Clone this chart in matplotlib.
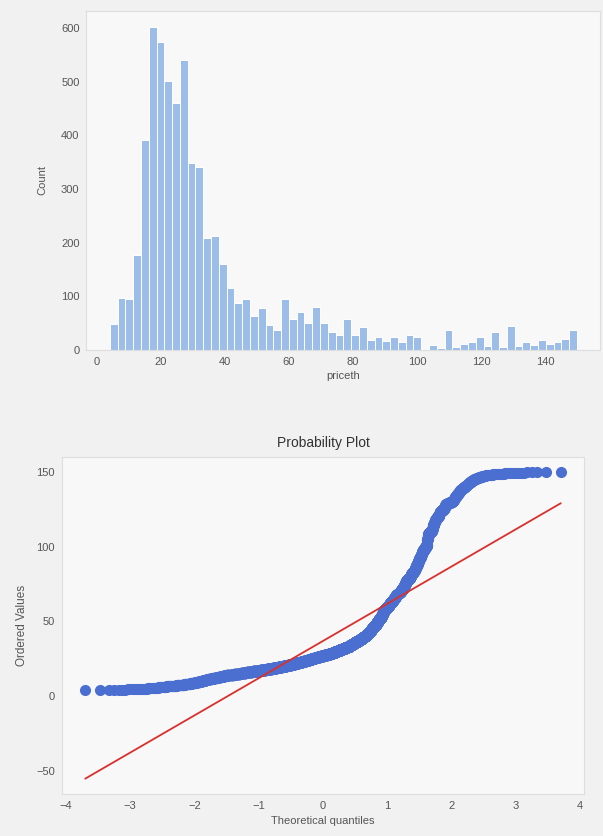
import numpy as np
import matplotlib
matplotlib.use("Agg")
import matplotlib.pyplot as plt
from statistics import NormalDist

# ---------------- data ----------------
bin_start = 4.0
bin_end = 150.0
counts = [48, 97, 95, 177, 391, 602, 574, 501, 461, 541,
          348, 341, 208, 212, 160, 115, 87, 95, 63, 78,
          47, 37, 95, 57, 71, 50, 81, 51, 34, 28,
          57, 28, 43, 19, 25, 16, 25, 14, 28, 25,
          0, 10, 4, 38, 6, 12, 14, 24, 8, 33,
          6, 45, 8, 14, 10, 18, 12, 15, 20, 38]

hist_xlabel = "priceth"
hist_ylabel = "Count"
hist_xticks = [0, 20, 40, 60, 80, 100, 120, 140]
hist_yticks = [0, 100, 200, 300, 400, 500, 600]

pp_title = "Probability Plot"
pp_xlabel = "Theoretical quantiles"
pp_ylabel = "Ordered Values"
pp_xticks = [-4, -3, -2, -1, 0, 1, 2, 3, 4]
pp_yticks = [-50, 0, 50, 100, 150]

# ---------------- style ----------------
plt.rcParams['font.family'] = ['Liberation Sans', 'DejaVu Sans']
W, H = 603, 836
fig = plt.figure(figsize=(W / 100, H / 100), dpi=100)
fig.patch.set_facecolor('#f1f1f1')

bar_color = '#9dbde9'
dot_color = '#4a6fd0'
line_color = '#d9302c'
spine_color = '#dedede'
text_color = '#555555'


def style(ax):
    ax.set_facecolor('#f8f8f8')
    for s in ax.spines.values():
        s.set_color(spine_color)
        s.set_linewidth(0.8)
    ax.tick_params(length=0, colors=text_color, labelsize=8, pad=5)


def place(ax, ref_x, px_x, sx, ref_y, px_y, sy):
    x0, x1 = ax.get_xlim()
    y0, y1 = ax.get_ylim()
    left = px_x + (x0 - ref_x) * sx
    right = px_x + (x1 - ref_x) * sx
    bottom = px_y + (ref_y - y0) * sy
    top = px_y + (ref_y - y1) * sy
    ax.set_position([left / W, 1 - bottom / H, (right - left) / W, (bottom - top) / H])


# ---------------- histogram ----------------
edges = np.linspace(bin_start, bin_end, len(counts) + 1)
ax1 = fig.add_axes([0.1, 0.6, 0.8, 0.35])
ax1.bar(edges[:-1], counts, width=np.diff(edges), align='edge',
        color=bar_color, edgecolor='white', linewidth=0.7)
style(ax1)
ax1.set_xticks(hist_xticks)
ax1.set_yticks(hist_yticks)
ax1.set_xlabel(hist_xlabel, fontsize=8, color=text_color, labelpad=3)
ax1.set_ylabel(hist_ylabel, fontsize=8, color=text_color, labelpad=10)
place(ax1, 0, 97, 3.2, 0, 350, 0.5367)

# ---------------- probability plot ----------------
vals = np.concatenate([lo + (np.arange(c) + 0.5) / c * (hi - lo)
                       for lo, hi, c in zip(edges[:-1], edges[1:], counts) if c > 0])
vals = np.sort(vals)
n = len(vals)
i = np.arange(1, n + 1)
m = (i - 0.3175) / (n + 0.365)
m[-1] = 0.5 ** (1.0 / n)
m[0] = 1 - m[-1]
nd = NormalDist()
osm = np.array([nd.inv_cdf(p) for p in m])
slope, intercept = np.polyfit(osm, vals, 1)

ax2 = fig.add_axes([0.1, 0.05, 0.8, 0.4])
ax2.plot(osm, vals, 'o', color=dot_color, markersize=7)
ax2.plot(osm, slope * osm + intercept, '-', color=line_color, lw=1.3)
style(ax2)
ax2.set_xticks(pp_xticks)
ax2.set_yticks(pp_yticks)
ax2.set_title(pp_title, fontsize=10, color='#333333', pad=7)
ax2.set_xlabel(pp_xlabel, fontsize=8, color=text_color, labelpad=4)
ax2.set_ylabel(pp_ylabel, fontsize=8.5, color=text_color, labelpad=6)
place(ax2, 0, 323, 64.25, 0, 696, 1.493)

fig.savefig('out.png', dpi=100, facecolor=fig.get_facecolor())
